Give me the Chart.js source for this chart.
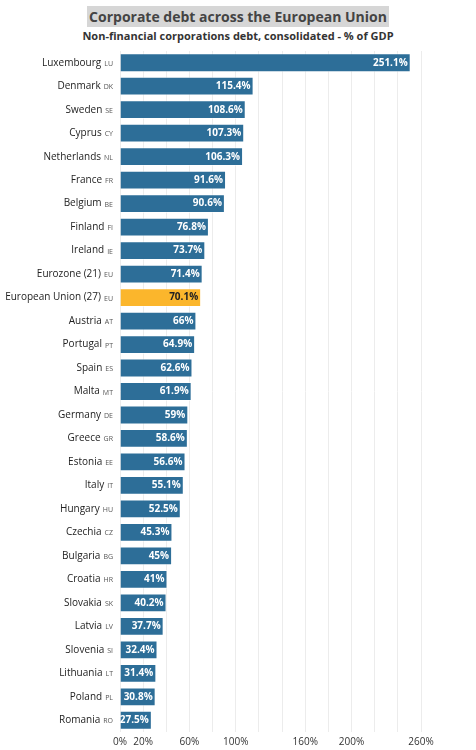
<!DOCTYPE html>
<html>
<head>
<meta charset="utf-8">
<script src="https://cdn.jsdelivr.net/npm/chart.js@4"></script>
<style>
body{margin:0;background:#fff;font-family:"Open Sans",sans-serif;}
#wrap{width:476px;height:750px;position:relative;}
#title{position:absolute;top:5px;left:0;width:476px;text-align:center;}
#title span{background:#d6d6d6;color:#444;font-weight:bold;font-size:14px;padding:1px 2px;}
#sub{position:absolute;top:28px;left:0;width:476px;text-align:center;color:#333;font-weight:bold;font-size:11px;}
#cv{position:absolute;top:47px;left:0;}
</style>
</head>
<body>
<div id="wrap">
<div id="title"><span>Corporate debt across the European Union</span></div>
<div id="sub">Non-financial corporations debt, consolidated - % of GDP</div>
<div id="cv"><canvas id="chart" width="476" height="703"></canvas></div>
</div>
<script>
var countries=["Luxembourg","Denmark","Sweden","Cyprus","Netherlands","France","Belgium","Finland","Ireland","Eurozone (21)","European Union (27)","Austria","Portugal","Spain","Malta","Germany","Greece","Estonia","Italy","Hungary","Czechia","Bulgaria","Croatia","Slovakia","Latvia","Slovenia","Lithuania","Poland","Romania"];
var codes=["LU","DK","SE","CY","NL","FR","BE","FI","IE","EU","EU","AT","PT","ES","MT","DE","GR","EE","IT","HU","CZ","BG","HR","SK","LV","SI","LT","PL","RO"];
var debt=[251.1,115.4,108.6,107.3,106.3,91.6,90.6,76.8,73.7,71.4,70.1,66,64.9,62.6,61.9,59,58.6,56.6,55.1,52.5,45.3,45,41,40.2,37.7,32.4,31.4,30.8,27.5];
var shownTicks=[0,20,60,100,160,200,260];

var colors=countries.map(function(c){return c=="European Union (27)"?"#fbb62c":"#2d6e98";});

var labelPlugin={
	id:"labels",
	afterDraw:function(chart){
		var ctx=chart.ctx,y=chart.scales.y,meta=chart.getDatasetMeta(0);
		ctx.save();
		ctx.textBaseline="middle";
		for(var i=0;i<countries.length;i++){
			var py=y.getPixelForTick(i);
			ctx.font="7px 'Open Sans'";
			ctx.fillStyle="#555";
			ctx.textAlign="right";
			ctx.fillText(codes[i],113,py+1);
			var cw=ctx.measureText(codes[i]).width;
			ctx.font="10px 'Open Sans'";
			ctx.fillStyle="#222";
			ctx.fillText(countries[i],113-cw-3,py);
			var bar=meta.data[i];
			ctx.font="bold 10px 'Open Sans'";
			ctx.fillStyle=i==10?"#222":"#fff";
			ctx.fillText(debt[i]+"%",bar.x-3,py);
		}
		ctx.restore();
	}
};

new Chart(document.getElementById("chart"),{
	type:"bar",
	data:{labels:countries,datasets:[{data:debt,backgroundColor:colors,borderColor:"rgba(255,255,255,0.5)",borderWidth:1,barPercentage:0.8,categoryPercentage:1}]},
	options:{
		indexAxis:"y",
		responsive:false,
		animation:false,
		layout:{padding:{top:4,right:55,bottom:0}},
		plugins:{legend:{display:false},tooltip:{enabled:false}},
		scales:{
			x:{min:0,max:260,
				ticks:{stepSize:20,autoSkip:false,maxRotation:0,color:"#333",padding:4,font:{size:10,family:"Open Sans"},
					callback:function(v){return shownTicks.indexOf(v)>=0?v+"%":"";}},
				grid:{color:"#ececec",drawTicks:false},border:{display:false},
				afterFit:function(s){s.height=18;}},
			y:{ticks:{display:false},grid:{display:false},border:{display:false},
				afterFit:function(s){s.width=120;}}
		}
	},
	plugins:[labelPlugin]
});
</script>
</body>
</html>
